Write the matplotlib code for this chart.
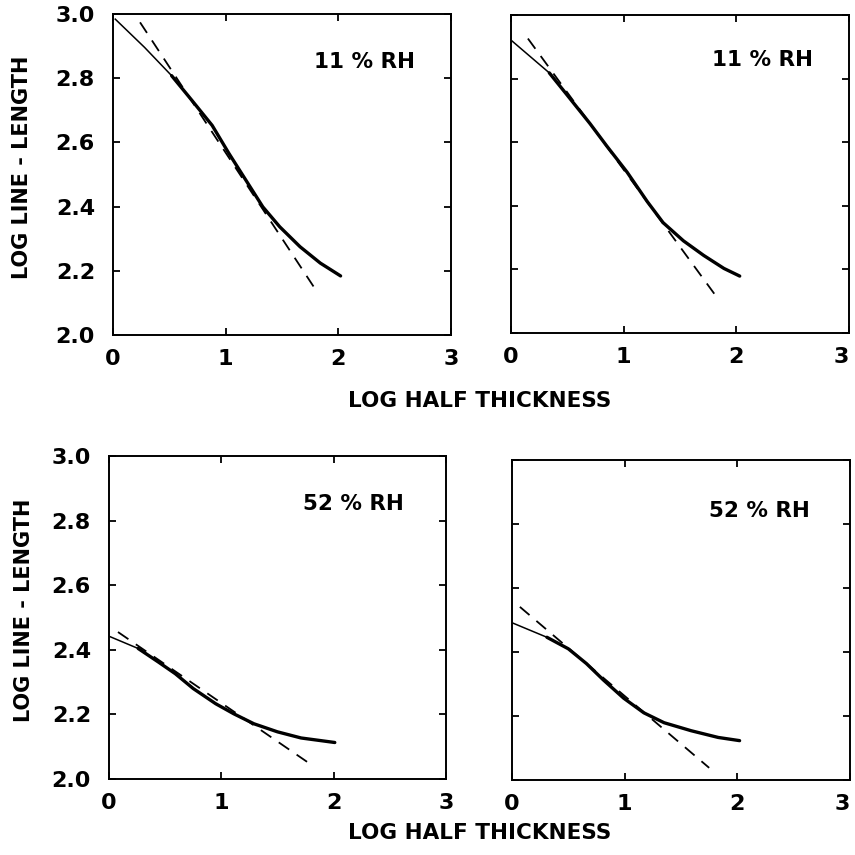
import matplotlib.pyplot as plt

plt.rcParams['font.family'] = ['DejaVu Sans']
plt.rcParams['font.weight'] = 'bold'

# measured curves (log half thickness, log line-length)
tl_x = [0.02, 0.28, 0.52, 0.70, 0.88, 1.03, 1.18, 1.33, 1.48, 1.66, 1.84, 2.02]
tl_y = [2.984, 2.896, 2.808, 2.731, 2.653, 2.565, 2.482, 2.399, 2.337, 2.275, 2.224, 2.184]
tl_fit_x = [0.24, 1.78]
tl_fit_y = [2.974, 2.151]

tr_x = [0.01, 0.34, 0.49, 0.70, 0.85, 1.03, 1.21, 1.35, 1.53, 1.71, 1.89, 2.03]
tr_y = [2.918, 2.818, 2.752, 2.659, 2.588, 2.506, 2.413, 2.347, 2.290, 2.244, 2.203, 2.179]
tr_fit_x = [0.15, 1.83]
tr_fit_y = [2.926, 2.111]

bl_x = [0.0, 0.26, 0.44, 0.59, 0.75, 0.95, 1.11, 1.29, 1.50, 1.71, 2.01]
bl_y = [2.442, 2.404, 2.362, 2.326, 2.280, 2.233, 2.202, 2.171, 2.146, 2.127, 2.113]
bl_fit_x = [0.08, 1.81]
bl_fit_y = [2.455, 2.042]

br_x = [0.01, 0.31, 0.50, 0.66, 0.81, 0.99, 1.17, 1.35, 1.59, 1.83, 2.02]
br_y = [2.490, 2.446, 2.410, 2.364, 2.313, 2.256, 2.210, 2.179, 2.154, 2.133, 2.123]
br_fit_x = [0.07, 1.75]
br_fit_y = [2.541, 2.038]

labels = ['11 % RH', '11 % RH', '52 % RH', '52 % RH']
label_pos = [(2.23, 2.85), (2.23, 2.86), (2.18, 2.85), (2.2, 2.84)]

x_ticks = [0, 1, 2, 3]
y_ticks = [2.0, 2.2, 2.4, 2.6, 2.8, 3.0]

W = 855.0
# panel rectangles in pixels: left, top, right, bottom
rects = [(113, 14, 451, 335), (511, 15, 849, 333),
         (109, 456, 446, 779), (512, 460, 850, 780)]
thick_from = [2, 1, 1, 1]   # where the dotted (thick) part of the curve begins

data = [(tl_x, tl_y, tl_fit_x, tl_fit_y), (tr_x, tr_y, tr_fit_x, tr_fit_y),
        (bl_x, bl_y, bl_fit_x, bl_fit_y), (br_x, br_y, br_fit_x, br_fit_y)]

fig = plt.figure(figsize=(8.55, 8.55), dpi=100)

for i, (r, d) in enumerate(zip(rects, data)):
    l, t, rr, b = r
    ax = fig.add_axes([l / W, 1 - b / W, (rr - l) / W, (b - t) / W])
    cx, cy, fx, fy = d
    k = thick_from[i]
    ax.plot(fx, fy, color='black', lw=1.3, dashes=(7, 5))
    ax.plot(cx, cy, color='black', lw=1.1)
    ax.plot(cx[k:], cy[k:], color='black', lw=2.4, solid_capstyle='round')
    ax.text(label_pos[i][0], label_pos[i][1], labels[i], ha='center', va='center',
            fontsize=15.5, fontweight='bold')
    ax.set_xlim(0, 3)
    ax.set_ylim(2.0, 3.0)
    ax.set_xticks(x_ticks)
    ax.set_xticklabels([str(v) for v in x_ticks])
    ax.set_yticks(y_ticks)
    ax.tick_params(direction='in', top=True, right=True, length=5, width=1.3,
                   labelsize=16)
    ax.tick_params(axis='y', pad=13)
    ax.tick_params(axis='x', pad=10)
    for s in ax.spines.values():
        s.set_linewidth(1.4)
    if i % 2 == 0:
        ax.set_yticklabels([f'{v:.1f}' for v in y_ticks])
    else:
        ax.set_yticklabels([])
        # last label sits just inside the right edge, as in the original
        ax.get_xticklabels()[-1].set_horizontalalignment('right')

fig.text(480 / W, 1 - 401 / W, 'LOG HALF THICKNESS', ha='center', va='center',
         fontsize=15.5, fontweight='bold')
fig.text(480 / W, 1 - 833 / W, 'LOG HALF THICKNESS', ha='center', va='center',
         fontsize=15.5, fontweight='bold')
fig.text(22 / W, 1 - 167 / W, 'LOG LINE - LENGTH', ha='center', va='center',
         rotation=90, fontsize=15, fontweight='bold')
fig.text(24 / W, 1 - 610 / W, 'LOG LINE - LENGTH', ha='center', va='center',
         rotation=90, fontsize=15, fontweight='bold')

fig.savefig('out.png', dpi=100, facecolor='white')
